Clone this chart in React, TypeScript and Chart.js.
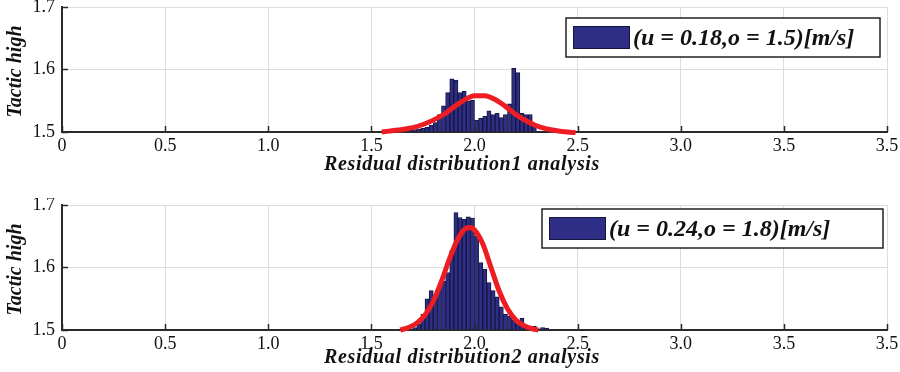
import React, { useEffect, useRef } from "react";
import { Chart, registerables } from "chart.js";

Chart.register(...registerables);

// ---------- data ----------
const X_TICK_LABELS = ["0", "0.5", "1.0", "1.5", "2.0", "2.5", "3.0", "3.5", "3.5"];
const Y_TITLE = "Tactic high";

const BINS_1 = [1.61, 1.63, 1.65, 1.67, 1.69, 1.71, 1.73, 1.75, 1.77, 1.79, 1.81, 1.83, 1.85, 1.87, 1.89, 1.91, 1.93, 1.95, 1.97, 1.99, 2.01, 2.03, 2.05, 2.07, 2.09, 2.11, 2.13, 2.15, 2.17, 2.19, 2.21, 2.23, 2.25, 2.27, 2.29];
const COUNTS_1 = [1.501, 1.502, 1.502, 1.503, 1.503, 1.504, 1.505, 1.506, 1.508, 1.511, 1.515, 1.528, 1.542, 1.563, 1.585, 1.583, 1.563, 1.565, 1.55, 1.551, 1.519, 1.522, 1.525, 1.534, 1.528, 1.53, 1.523, 1.528, 1.545, 1.602, 1.595, 1.53, 1.528, 1.528, 1.51];
const FIT_X_1 = [1.55, 1.6, 1.65, 1.7, 1.75, 1.8, 1.85, 1.9, 1.95, 2.0, 2.05, 2.1, 2.15, 2.2, 2.25, 2.3, 2.35, 2.4, 2.45, 2.49];
const FIT_Y_1 = [1.5, 1.502, 1.504, 1.507, 1.512, 1.519, 1.528, 1.54, 1.551, 1.558, 1.558, 1.552, 1.541, 1.528, 1.518, 1.51, 1.505, 1.502, 1.5, 1.499];
const LABEL_1 = "(u = 0.18,o = 1.5)[m/s]";
const X_TITLE_1 = "Residual distribution1 analysis";

const BINS_2 = [1.71, 1.73, 1.75, 1.77, 1.79, 1.81, 1.83, 1.85, 1.87, 1.89, 1.91, 1.93, 1.95, 1.97, 1.99, 2.01, 2.03, 2.05, 2.07, 2.09, 2.11, 2.13, 2.15, 2.17, 2.19, 2.21, 2.23, 2.25, 2.27, 2.29, 2.31, 2.33, 2.35];
const COUNTS_2 = [1.504, 1.51, 1.525, 1.55, 1.563, 1.556, 1.568, 1.578, 1.592, 1.628, 1.688, 1.68, 1.677, 1.681, 1.679, 1.65, 1.608, 1.597, 1.576, 1.563, 1.553, 1.537, 1.525, 1.522, 1.516, 1.509, 1.519, 1.508, 1.503, 1.506, 1.502, 1.504, 1.503];
const FIT_X_2 = [1.64, 1.68, 1.72, 1.76, 1.8, 1.84, 1.88, 1.92, 1.96, 1.98, 2.0, 2.04, 2.08, 2.12, 2.16, 2.2, 2.24, 2.28, 2.31];
const FIT_Y_2 = [1.5, 1.504, 1.511, 1.524, 1.546, 1.578, 1.615, 1.646, 1.663, 1.664, 1.66, 1.638, 1.6, 1.562, 1.534, 1.516, 1.507, 1.502, 1.5];
const LABEL_2 = "(u = 0.24,o = 1.8)[m/s]";
const X_TITLE_2 = "Residual distribution2 analysis";

// ---------- styling ----------
const FONT = "'Liberation Serif', 'Times New Roman', serif";
const BAR_FILL = "#2e2e86";
const BAR_EDGE = "#15153c";
const FIT_RED = "#ee1d23";
const GRID = "#dcdcdc";
const AXIS = "#2a2a2a";

const overlayPlugin = {
  id: "overlay",
  afterDatasetsDraw(chart: any, _args: any, opts: any) {
    const { ctx, chartArea: a, scales } = chart;
    const xs = scales.x;
    const ys = scales.y;
    ctx.save();
    // inward tick marks
    ctx.strokeStyle = AXIS;
    ctx.lineWidth = 1.5;
    xs.ticks.forEach((t: any) => {
      const px = Math.round(xs.getPixelForValue(t.value)) + 0.5;
      ctx.beginPath();
      ctx.moveTo(px, a.bottom);
      ctx.lineTo(px, a.bottom - 6);
      ctx.stroke();
    });
    ys.ticks.forEach((t: any) => {
      const py = Math.round(ys.getPixelForValue(t.value)) + 0.5;
      ctx.beginPath();
      ctx.moveTo(a.left, py);
      ctx.lineTo(a.left + 6, py);
      ctx.stroke();
    });
    // x-axis title
    ctx.fillStyle = "#111111";
    ctx.font = `italic bold 20px ${FONT}`;
    try {
      (ctx as any).letterSpacing = "0.7px";
    } catch (e) {}
    ctx.textAlign = "center";
    ctx.textBaseline = "middle";
    ctx.fillText(opts.xTitle, opts.titleX, a.bottom + opts.titleDy);
    try {
      (ctx as any).letterSpacing = "0px";
    } catch (e) {}
    // y-axis title
    ctx.save();
    ctx.translate(16, a.top + 64.5);
    ctx.rotate(-Math.PI / 2);
    ctx.font = `italic bold 20px ${FONT}`;
    ctx.textAlign = "center";
    ctx.textBaseline = "middle";
    ctx.fillText(opts.yTitle, 0, 0);
    ctx.restore();
    // legend box
    const bx = a.right - opts.left;
    const bxr = a.right - opts.right;
    const by = a.top + opts.top;
    const bh = opts.height;
    ctx.fillStyle = "#ffffff";
    ctx.fillRect(bx, by, bxr - bx, bh);
    ctx.strokeStyle = "#222222";
    ctx.lineWidth = 1.5;
    ctx.strokeRect(bx, by, bxr - bx, bh);
    const sw = 57;
    const sh = 23;
    const sx = bx + 7;
    const sy = by + (bh - sh) / 2;
    ctx.fillStyle = BAR_FILL;
    ctx.fillRect(sx, sy, sw, sh);
    ctx.strokeStyle = BAR_EDGE;
    ctx.lineWidth = 1;
    ctx.strokeRect(sx + 0.5, sy + 0.5, sw - 1, sh - 1);
    ctx.fillStyle = "#111111";
    ctx.font = `italic bold 24px ${FONT}`;
    ctx.textBaseline = "middle";
    ctx.textAlign = "left";
    ctx.fillText(opts.text, sx + sw + 3, by + bh / 2 + 1);
    ctx.restore();
  },
};

type PanelProps = {
  bins: number[];
  counts: number[];
  fitX: number[];
  fitY: number[];
  label: string;
  xTitle: string;
  height: number;
  padBottom: number;
  axisHeight: number;
  titleDy: number;
  legend: { left: number; right: number; top: number; height: number };
};

function Panel(p: PanelProps) {
  const ref = useRef<HTMLCanvasElement | null>(null);
  useEffect(() => {
    if (!ref.current) return;
    const chart = new Chart(ref.current, {
      type: "bar",
      data: {
        datasets: [
          {
            type: "line",
            data: p.fitX.map((x, i) => ({ x, y: p.fitY[i] })),
            borderColor: FIT_RED,
            borderWidth: 5,
            pointRadius: 0,
            tension: 0.4,
            cubicInterpolationMode: "monotone",
            fill: false,
            clip: false,
            order: 0,
          } as any,
          {
            type: "bar",
            data: p.bins.map((x, i) => ({ x, y: p.counts[i] })),
            backgroundColor: BAR_FILL,
            borderColor: BAR_EDGE,
            borderWidth: 1,
            base: 1.5,
            barPercentage: 1,
            categoryPercentage: 1,
            order: 1,
          } as any,
        ],
      },
      options: {
        animation: false,
        responsive: false,
        devicePixelRatio: 1,
        layout: { padding: { left: 0, right: 13, top: 7, bottom: p.padBottom } },
        plugins: {
          legend: { display: false },
          tooltip: { enabled: false },
          overlay: { ...p.legend, text: p.label, xTitle: p.xTitle, yTitle: Y_TITLE, titleX: 462, titleDy: p.titleDy },
        } as any,
        scales: {
          x: {
            type: "linear",
            min: 0,
            max: 4,
            offset: false,
            ticks: {
              stepSize: 0.5,
              autoSkip: false,
              maxRotation: 0,
              padding: 3,
              color: "#111",
              font: { family: FONT, size: 18 },
              callback: (v: any) => X_TICK_LABELS[Math.round(Number(v) / 0.5)],
            },
            grid: { color: GRID, lineWidth: 1, drawTicks: false, offset: false },
            border: { color: AXIS, width: 2 },
            title: { display: false },
            afterFit: (s: any) => {
              s.height = p.axisHeight;
              s.paddingLeft = 0;
              s.paddingRight = 0;
            },
          },
          y: {
            type: "linear",
            min: 1.5,
            max: 1.7,
            ticks: {
              stepSize: 0.1,
              padding: 7,
              color: "#111",
              font: { family: FONT, size: 18 },
              callback: (v: any) => Number(v).toFixed(1),
            },
            grid: { color: GRID, lineWidth: 1, drawTicks: false },
            border: { color: AXIS, width: 2 },
            title: { display: false },
            afterFit: (s: any) => {
              s.width = 62;
              s.paddingTop = 0;
              s.paddingBottom = 0;
            },
          },
        },
      } as any,
      plugins: [overlayPlugin as any],
    });
    return () => chart.destroy();
  }, []);
  return <canvas ref={ref} width={900} height={p.height} style={{ display: "block", width: 900, height: p.height }} />;
}

export default function App() {
  return (
    <div style={{ position: "absolute", left: 0, top: 0, width: 900, height: 372, background: "#fff" }}>
      <Panel
        bins={BINS_1}
        counts={COUNTS_1}
        fitX={FIT_X_1}
        fitY={FIT_Y_1}
        label={LABEL_1}
        xTitle={X_TITLE_1}
        height={198}
        padBottom={18}
        axisHeight={48}
        titleDy={33}
        legend={{ left: 321, right: 7, top: 11, height: 39 }}
      />
      <Panel
        bins={BINS_2}
        counts={COUNTS_2}
        fitX={FIT_X_2}
        fitY={FIT_Y_2}
        label={LABEL_2}
        xTitle={X_TITLE_2}
        height={174}
        padBottom={0}
        axisHeight={42}
        titleDy={28}
        legend={{ left: 345, right: 4, top: 4, height: 39 }}
      />
    </div>
  );
}
